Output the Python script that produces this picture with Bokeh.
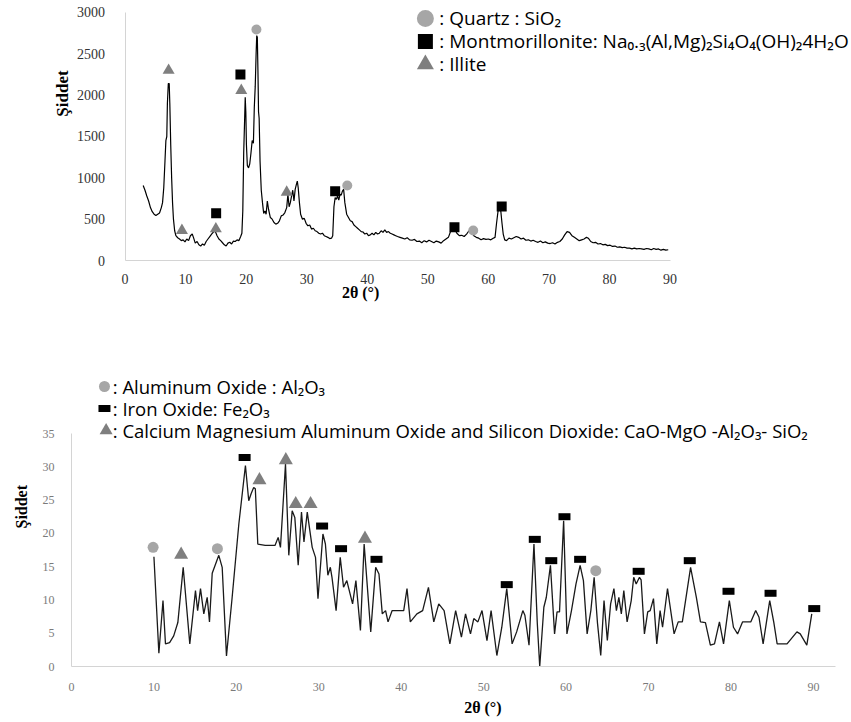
import math
from bokeh.plotting import figure
from bokeh.layouts import column
from bokeh.models import Range1d, SingleIntervalTicker, Label
from bokeh.core.properties import value
from bokeh.embed import file_html
from bokeh.resources import INLINE

# ---------------- data: top pattern (raw clay) ----------------
top_x = [3.0, 3.3, 3.6, 3.9, 4.2, 4.5, 4.8, 5.1, 5.4, 5.7, 6.0, 6.2, 6.4, 6.6, 6.75, 6.9, 7.0, 7.15, 7.3, 7.4,
         7.55, 7.7, 7.85, 8.0, 8.2, 8.4, 8.7, 9.0, 9.3, 9.6, 9.9, 10.2, 10.5, 10.8, 11.1, 11.3, 11.6, 11.9, 12.2, 12.5,
         12.8, 13.1, 13.4, 13.7, 14.0, 14.3, 14.6, 14.9, 15.2, 15.5, 15.8, 16.1, 16.4, 16.7, 17.0, 17.3, 17.6, 17.9, 18.2, 18.5,
         18.8, 19.1, 19.3, 19.45, 19.6, 19.75, 19.85, 19.95, 20.05, 20.2, 20.4, 20.6, 20.8, 21.0, 21.2, 21.35, 21.5, 21.65, 21.75, 21.85,
         21.95, 22.05, 22.15, 22.3, 22.5, 22.7, 22.9, 23.1, 23.3, 23.5, 23.7, 24.0, 24.3, 24.6, 24.9, 25.2, 25.5, 25.8, 26.1, 26.4,
         26.7, 26.9, 27.1, 27.3, 27.5, 27.7, 27.9, 28.1, 28.3, 28.45, 28.6, 28.8, 29.0, 29.3, 29.6, 29.9, 30.2, 30.5, 30.8, 31.1,
         31.4, 31.7, 32.0, 32.3, 32.6, 32.9, 33.2, 33.5, 33.8, 34.1, 34.3, 34.5, 34.7, 34.9, 35.1, 35.3, 35.5, 35.7, 35.9, 36.1,
         36.3, 36.6, 36.9, 37.2, 37.5, 37.8, 38.1, 38.4, 38.7, 39.0, 39.3, 39.6, 39.9, 40.2, 40.5, 40.8, 41.1, 41.4, 41.7, 42.0,
         42.3, 42.6, 42.9, 43.2, 43.5, 43.8, 44.1, 44.4, 44.7, 45.0, 45.4, 45.8, 46.2, 46.6, 47.0, 47.4, 47.8, 48.2, 48.6, 49.0,
         49.4, 49.8, 50.2, 50.6, 51.0, 51.4, 51.8, 52.2, 52.6, 53.0, 53.4, 53.8, 54.2, 54.5, 54.8, 55.2, 55.6, 56.0, 56.4, 56.8,
         57.2, 57.6, 58.0, 58.4, 58.8, 59.2, 59.6, 60.0, 60.4, 60.8, 61.1, 61.35, 61.6, 61.85, 62.05, 62.25, 62.45, 62.7, 63.0, 63.4,
         63.8, 64.2, 64.6, 65.0, 65.4, 65.8, 66.2, 66.6, 67.0, 67.4, 67.8, 68.2, 68.6, 69.0, 69.4, 69.8, 70.2, 70.6, 71.0, 71.4,
         71.8, 72.2, 72.6, 73.0, 73.4, 73.8, 74.2, 74.6, 75.0, 75.4, 75.8, 76.2, 76.5, 76.9, 77.3, 77.7, 78.1, 78.5, 78.9, 79.3,
         79.7, 80.1, 80.5, 80.9, 81.3, 81.7, 82.1, 82.5, 82.9, 83.3, 83.7, 84.1, 84.5, 84.9, 85.3, 85.7, 86.1, 86.5, 86.9, 87.3,
         87.7, 88.1, 88.5, 88.9, 89.3, 89.7]
top_y = [907, 850, 780, 720, 640, 590, 560, 545, 560, 575, 640, 700, 880, 1200, 1450, 1500, 1900, 2140, 2140, 1900,
         1400, 1000, 700, 500, 360, 300, 275, 260, 240, 250, 225, 260, 240, 300, 320, 280, 210, 230, 190, 175,
         200, 185, 230, 260, 290, 320, 345, 355, 300, 260, 240, 215, 190, 175, 210, 220, 200, 235, 230, 250,
         240, 290, 330, 600, 1300, 1700, 1975, 1800, 1400, 1150, 1120, 1170, 1300, 1450, 1420, 1850, 2100, 2500, 2720, 2700,
         2300, 1800, 1720, 1200, 850, 700, 570, 600, 560, 720, 620, 520, 500, 460, 440, 450, 480, 540, 550, 580,
         640, 800, 650, 700, 780, 850, 720, 860, 920, 960, 880, 700, 560, 500, 510, 450, 420, 430, 380, 390,
         360, 350, 330, 320, 330, 300, 290, 280, 265, 270, 300, 650, 760, 740, 780, 730, 800, 790, 840, 860,
         700, 560, 520, 480, 470, 430, 410, 390, 370, 350, 345, 320, 330, 300, 310, 330, 310, 340, 320, 330,
         360, 340, 370, 340, 350, 330, 320, 310, 300, 290, 280, 270, 260, 275, 250, 245, 255, 230, 235, 215,
         240, 225, 245, 230, 215, 235, 225, 210, 240, 260, 280, 360, 380, 370, 330, 300, 305, 290, 320, 360,
         340, 300, 280, 270, 250, 265, 255, 260, 250, 270, 280, 450, 600, 610, 600, 450, 320, 250, 240, 270,
         260, 275, 290, 280, 260, 270, 245, 250, 235, 245, 230, 220, 235, 215, 225, 210, 205, 215, 200, 220,
         230, 260, 310, 350, 340, 300, 280, 260, 240, 250, 260, 280, 270, 230, 215, 220, 200, 205, 190, 195,
         180, 185, 170, 175, 160, 165, 155, 160, 150, 150, 140, 150, 140, 145, 140, 135, 145, 140, 130, 145,
         135, 140, 125, 135, 125, 130]

quartz_x = [21.7, 36.7, 57.5]
quartz_y = [2795, 907, 363]
mont_x = [19.06, 15.05, 34.7, 54.4, 62.2]
mont_y = [2250, 572, 838, 403, 653]
illite_x = [7.2, 19.2, 9.4, 15.0, 26.7]
illite_y = [2300, 2057, 363, 383, 826]

top_xticks = [0, 10, 20, 30, 40, 50, 60, 70, 80, 90]
top_yticks = [0, 500, 1000, 1500, 2000, 2500, 3000]
top_legend = [": Quartz : SiO\u2082",
              ": Montmorillonite: Na\u2080.\u2083(Al,Mg)\u2082Si\u2084O\u2084(OH)\u20824H\u2082O",
              ": Illite"]

# ---------------- data: bottom pattern (fired) ----------------
bot_x = [10.0, 10.6, 11.1, 11.4, 11.9, 12.4, 12.9, 13.55, 14.35, 15.04, 15.3, 15.65, 16.05, 16.46, 16.74, 17.07, 17.87, 18.28, 18.8, 19.49,
         20.3, 21.1, 21.5, 21.8, 22.1, 22.3, 22.6, 23.5, 24.7, 25.07, 25.35, 25.96, 26.36, 26.77, 27.09, 27.5, 27.9, 28.2, 28.6, 29.2,
         29.6, 29.9, 30.5, 30.8, 31.1, 31.4, 31.6, 32.1, 32.6, 33.0, 33.4, 33.6, 34.1, 34.5, 35.05, 35.5, 36.3, 36.9, 37.3, 37.7,
         38.1, 38.4, 38.9, 40.3, 40.7, 41.1, 41.9, 42.6, 43.3, 43.95, 44.55, 45.2, 45.9, 46.6, 47.3, 47.8, 48.4, 48.8, 49.3, 49.8,
         50.4, 50.9, 51.6, 52.2, 52.8, 53.45, 54.0, 54.75, 55.0, 55.5, 56.1, 56.5, 56.8, 57.3, 57.6, 58.1, 58.6, 58.9, 59.2, 59.7,
         60.1, 60.65, 61.2, 61.7, 62.1, 62.55, 63.0, 63.4, 63.8, 64.2, 64.6, 65.0, 65.4, 65.8, 66.1, 66.4, 66.7, 67.0, 67.4, 67.9,
         68.2, 68.5, 68.9, 69.1, 69.5, 69.9, 70.2, 70.6, 71.0, 71.4, 71.7, 72.3, 73.1, 73.6, 74.1, 75.1, 75.8, 76.3, 76.9, 77.5,
         78.0, 78.6, 79.1, 79.8, 80.3, 80.8, 81.4, 82.0, 82.4, 83.0, 83.4, 83.9, 84.7, 85.2, 85.6, 86.8, 88.0, 88.4, 89.2, 89.8]
bot_y = [16.5, 2.0, 9.9, 3.4, 3.6, 4.6, 6.6, 14.9, 3.4, 11.4, 8.4, 11.7, 7.9, 10.4, 6.7, 14.0, 16.7, 14.9, 1.6, 10.4,
         21.4, 30.2, 24.9, 26.0, 26.9, 26.7, 18.4, 18.2, 18.2, 19.4, 17.9, 30.4, 16.7, 23.4, 22.4, 15.2, 23.2, 18.7, 23.2, 17.9,
         16.4, 10.2, 19.9, 18.4, 13.7, 14.9, 13.4, 8.4, 16.4, 11.9, 12.9, 11.9, 9.4, 12.9, 5.4, 18.4, 5.2, 14.9, 13.9, 7.9,
         8.4, 6.7, 8.4, 8.4, 11.7, 6.7, 7.9, 8.4, 11.9, 6.7, 9.4, 8.4, 3.4, 8.4, 4.4, 7.9, 4.9, 7.2, 6.7, 8.4,
         3.9, 8.4, 1.65, 5.9, 11.7, 3.4, 5.2, 8.4, 7.7, 3.2, 18.4, 6.6, 0.0, 8.9, 10.4, 15.2, 4.9, 8.2, 8.2, 21.9,
         4.9, 8.4, 12.4, 15.2, 12.9, 4.9, 8.4, 13.4, 6.6, 1.65, 9.9, 3.9, 9.4, 11.7, 8.4, 10.4, 7.9, 11.4, 6.7, 9.9,
         13.4, 12.4, 13.4, 13.0, 4.9, 8.2, 8.4, 10.2, 3.4, 8.4, 5.9, 11.7, 4.9, 6.7, 6.7, 14.9, 10.4, 6.7, 6.6, 3.2,
         3.4, 6.7, 3.4, 9.9, 5.9, 4.9, 6.7, 6.7, 6.7, 8.4, 7.4, 3.4, 9.9, 6.6, 3.4, 3.4, 5.2, 4.9, 3.2, 7.9]

alox_x = [9.9, 17.7, 63.6]
alox_y = [17.9, 17.7, 14.4]
feox_x = [21.0, 30.4, 32.7, 37.0, 52.8, 56.2, 58.2, 59.8, 61.7, 68.8, 75.0, 79.7, 84.8, 90.1]
feox_y = [31.4, 21.1, 17.7, 16.1, 12.3, 19.1, 15.9, 22.5, 16.1, 14.3, 15.9, 11.3, 11.0, 8.7]
cmas_x = [13.3, 22.8, 26.0, 27.2, 29.0, 35.6]
cmas_y = [16.8, 28.0, 31.0, 24.4, 24.4, 19.2]

bot_xticks = [0, 10, 20, 30, 40, 50, 60, 70, 80, 90]
bot_yticks = [0, 5, 10, 15, 20, 25, 30, 35]
bot_legend = [": Aluminum Oxide  : Al\u2082O\u2083",
              ": Iron Oxide: Fe\u2082O\u2083",
              ": Calcium Magnesium Aluminum Oxide and Silicon Dioxide: CaO-MgO -Al\u2082O\u2083- SiO\u2082"]

LEG_FONT = value("Open Sans")
SERIF = "Liberation Serif"
AXIS_GREY = "#d4d4d4"
CIRCLE_GREY = "#a6a6a6"
TRI_GREY = "#7f7f7f"


def style_axes(p, font_size, color):
    for ax in (p.xaxis, p.yaxis):
        ax.fixed_location = 0
        ax.axis_line_color = AXIS_GREY
        ax.axis_line_width = 1
        ax.major_tick_line_color = None
        ax.minor_tick_line_color = None
        ax.major_label_text_font = SERIF
        ax.major_label_text_font_size = font_size
        ax.major_label_text_color = color


# ---------------- top figure ----------------
p1 = figure(width=851, height=304, x_range=Range1d(-20.558, 119.96), y_range=Range1d(-532.2, 3145.1),
            output_backend="svg", toolbar_location=None,
            min_border_left=0, min_border_right=0, min_border_top=0, min_border_bottom=0)
p1.outline_line_color = None
p1.grid.visible = False
p1.xaxis.ticker = SingleIntervalTicker(interval=10)
p1.yaxis.ticker = SingleIntervalTicker(interval=500)
p1.xaxis.bounds = (top_xticks[0], top_xticks[-1])
p1.yaxis.bounds = (top_yticks[0], top_yticks[-1])
style_axes(p1, "14px", "#333333")
p1.xaxis.major_label_standoff = 7
p1.yaxis.major_label_standoff = 14

p1.line(top_x, top_y, line_color="black", line_width=1.2)
p1.scatter(quartz_x, quartz_y, marker="circle", size=10, fill_color=CIRCLE_GREY, line_color=None)
p1.scatter(mont_x, mont_y, marker="square", size=10, fill_color="black", line_color=None)
p1.scatter(illite_x, illite_y, marker="triangle", size=12, fill_color=TRI_GREY, line_color=None)

leg1_y = [2928, 2650, 2372]
p1.scatter([49.6], [leg1_y[0]], marker="circle", size=17, fill_color=CIRCLE_GREY, line_color=None)
p1.scatter([49.6], [leg1_y[1]], marker="square", size=15, fill_color="black", line_color=None)
p1.scatter([49.6], [leg1_y[2]], marker="triangle", size=17, fill_color=TRI_GREY, line_color=None)
p1.text([51.9] * 3, leg1_y, text=top_legend, text_font=LEG_FONT, text_font_size="19px",
        text_baseline="middle", text_align="left", text_color="black")

p1.add_layout(Label(x=-10.3, y=2020, text="Şiddet", angle=math.pi / 2, text_font=SERIF,
                    text_font_style="bold", text_font_size="17px", text_align="center",
                    text_baseline="middle", text_color="black"))
p1.add_layout(Label(x=38.9, y=-390, text="2θ (°)", text_font=SERIF,
                    text_font_style="bold", text_font_size="16px", text_align="center",
                    text_baseline="middle", text_color="black"))

# ---------------- bottom figure ----------------
p2 = figure(width=851, height=418, x_range=Range1d(-8.612, 94.62), y_range=Range1d(-8.412, 54.38),
            output_backend="svg", toolbar_location=None,
            min_border_left=0, min_border_right=0, min_border_top=0, min_border_bottom=0)
p2.outline_line_color = None
p2.grid.visible = False
p2.xaxis.ticker = SingleIntervalTicker(interval=10)
p2.yaxis.ticker = SingleIntervalTicker(interval=5)
p2.xaxis.bounds = (0, 92.7)
p2.yaxis.bounds = (bot_yticks[0], bot_yticks[-1])
style_axes(p2, "12px", "#7a7a7a")
p2.xaxis.major_label_standoff = 10
p2.yaxis.major_label_standoff = 11

p2.line(bot_x, bot_y, line_color="#1a1a1a", line_width=1.3)
p2.scatter(alox_x, alox_y, marker="circle", size=11, fill_color=CIRCLE_GREY, line_color=None)
p2.rect(feox_x, feox_y, width=12, height=7, width_units="screen", height_units="screen",
        fill_color="black", line_color=None)
p2.scatter(cmas_x, cmas_y, marker="triangle", size=14, fill_color=TRI_GREY, line_color=None)

leg2_y = [42.06, 38.75, 35.45]
p2.scatter([4.0], [leg2_y[0]], marker="circle", size=11, fill_color=CIRCLE_GREY, line_color=None)
p2.rect([4.0], [leg2_y[1]], width=12, height=7, width_units="screen", height_units="screen",
        fill_color="black", line_color=None)
p2.scatter([4.2], [leg2_y[2]], marker="triangle", size=13, fill_color=TRI_GREY, line_color=None)
p2.text([5.0] * 3, leg2_y, text=bot_legend, text_font=LEG_FONT, text_font_size="18.5px",
        text_baseline="middle", text_align="left", text_color="black")

p2.add_layout(Label(x=-6.07, y=24.0, text="Şiddet", angle=math.pi / 2, text_font=SERIF,
                    text_font_style="bold", text_font_size="16px", text_align="center",
                    text_baseline="middle", text_color="black"))
p2.add_layout(Label(x=49.9, y=-6.16, text="2θ (°)", text_font=SERIF,
                    text_font_style="bold", text_font_size="16px", text_align="center",
                    text_baseline="middle", text_color="black"))

layout = column(p1, p2, spacing=0)
open("out.html", "w").write(file_html(layout, INLINE))
